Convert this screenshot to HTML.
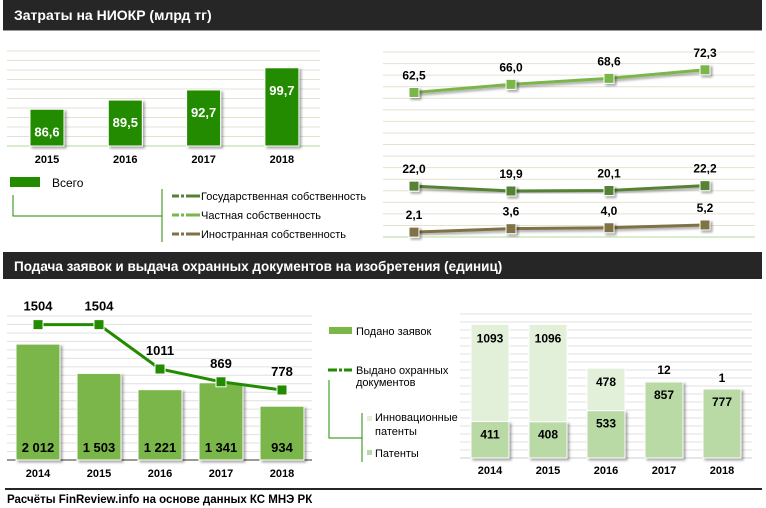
<!DOCTYPE html>
<html><head><meta charset="utf-8"><style>
body{margin:0;background:#fff;}
svg{display:block;font-family:"Liberation Sans",Arial,sans-serif;}
.b{font-weight:bold;}
</style></head><body>
<svg id="s" width="766" height="508" viewBox="0 0 766 508">
<defs><filter id="sh" x="-30%" y="-30%" width="170%" height="170%"><feDropShadow dx="2" dy="2" stdDeviation="1.2" flood-color="#000" flood-opacity="0.35"/></filter></defs>
<rect x="3" y="0" width="759" height="30" fill="#262626"/>
<rect x="3" y="30" width="759" height="1" fill="#999"/>
<text x="14" y="20" fill="#fff" font-size="14" class="b">Затраты на НИОКР (млрд тг)</text>
<g id="g1"></g><g id="g2"></g>
<rect x="3" y="252" width="759" height="27" fill="#262626"/>
<text x="14" y="271" fill="#fff" font-size="13.5" class="b">Подача заявок и выдача охранных документов  на изобретения (единиц)</text>
<g id="g3"></g><g id="g4"></g>
<rect x="10" y="177" width="30" height="10" fill="#228b00"/>
<text x="52" y="187" font-size="12">Всего</text>
<path d="M13 195V216H162M162 189V242" stroke="#228b00" fill="none" stroke-width="1"/>
<g font-size="11">
<path d="M172 196h28" stroke="#548235" stroke-width="3" stroke-dasharray="7 2 3 2 14 0"/><text x="201" y="200">Государственная собственность</text>
<path d="M172 215h28" stroke="#7ab648" stroke-width="3" stroke-dasharray="7 2 3 2 14 0"/><text x="201" y="219">Частная собственность</text>
<path d="M172 234h28" stroke="#7f7245" stroke-width="3" stroke-dasharray="7 2 3 2 14 0"/><text x="201" y="238">Иностранная собственность</text>
</g>
<rect x="329" y="327" width="23" height="7" fill="#7ab648"/>
<text x="356" y="335" font-size="11">Подано заявок</text>
<path d="M328 370h24" stroke="#228b00" stroke-width="3" stroke-dasharray="9 2 3 2 14 0"/>
<text x="356" y="374" font-size="11">Выдано охранных</text>
<text x="356" y="386" font-size="11">документов</text>
<path d="M329 380V438H362M362 413V462" stroke="#228b00" fill="none"/>
<rect x="367" y="416" width="5" height="5" fill="#e2efd9"/>
<text x="375" y="421" font-size="11">Инновационные</text>
<text x="375" y="435" font-size="11">патенты</text>
<rect x="367" y="450" width="5" height="5" fill="#b9d9a5"/>
<text x="375" y="457" font-size="11">Патенты</text>
<rect x="5" y="488" width="757" height="2" fill="#262626"/>
<text x="7" y="503" font-size="11.5" class="b">Расчёты FinReview.info  на основе данных КС МНЭ РК</text>
</svg>
<script>
const years1=["2015","2016","2017","2018"];
const total=[86.6,89.5,92.7,99.7];
const totalLabels=["86,6","89,5","92,7","99,7"];
const priv=[62.5,66.0,68.6,72.3];
const gov=[22.0,19.9,20.1,22.2];
const forn=[2.1,3.6,4.0,5.2];
const years2=["2014","2015","2016","2017","2018"];
const apps=[2012,1503,1221,1341,934];
const appLabels=["2 012","1 503","1 221","1 341","934"];
const issued=[1504,1504,1011,869,778];
const patents=[411,408,533,857,777];
const innov=[1093,1096,478,12,1];
const NS="http://www.w3.org/2000/svg";
function el(p,t,a,txt){const e=document.createElementNS(NS,t);for(const k in a)e.setAttribute(k,a[k]);if(txt!==undefined)e.textContent=txt;p.appendChild(e);return e;}
function fmt(v){return v.toFixed(1).replace('.',',');}
(function(){const g=document.getElementById('g1');const base=146,top=51,mn=75,mx=105;
const y=v=>base-(v-mn)/(mx-mn)*(base-top);
for(let v=mn+3;v<=mx;v+=3)el(g,'line',{x1:7,x2:320,y1:y(v),y2:y(v),stroke:'#e4e1d0'});
el(g,'line',{x1:7,x2:320,y1:base,y2:base,stroke:'#b5d99c'});
const xs=i=>30+i*78.3;
total.forEach((v,i)=>{const r=el(g,'rect',{x:xs(i),y:y(v),width:34,height:base-y(v),fill:'#228b00',stroke:'#fff','stroke-width':1,filter:'url(#sh)'});


el(g,'text',{x:xs(i)+17,y:y(v)+27,'text-anchor':'middle',fill:'#fff','font-size':13,'font-weight':'bold'},totalLabels[i]);
el(g,'text',{x:xs(i)+17,y:163,'text-anchor':'middle','font-size':11,'font-weight':'bold'},years1[i]);});})();
(function(){const g=document.getElementById('g2');const base=237,mx=80,h=2.3125;
const y=v=>base-v*h;const xs=[414,511,609,705];
for(let v=5;v<=mx;v+=5)el(g,'line',{x1:383,x2:755,y1:y(v),y2:y(v),stroke:'#e4e1d0'});
el(g,'line',{x1:383,x2:755,y1:base,y2:base,stroke:'#b5d99c'});
[[priv,'#7ab648','private'],[gov,'#548235','state'],[forn,'#7f7245','foreign']].forEach(([d,c,n])=>{
const l=el(g,'polyline',{points:d.map((v,i)=>xs[i]+','+y(v)).join(' '),fill:'none',stroke:c,'stroke-width':3,filter:'url(#sh)'});


d.forEach((v,i)=>{const m=el(g,'rect',{x:xs[i]-5,y:y(v)-5,width:10,height:10,fill:c,stroke:'#fff','stroke-width':1,filter:'url(#sh)'});


el(g,'text',{x:xs[i],y:y(v)-13,'text-anchor':'middle','font-size':12,'font-weight':'bold'},fmt(v));});});})();
(function(){const g=document.getElementById('g3');const base=460,top=316;
const y=v=>base-v/2500*(base-top);const y2=v=>base-v/1600*(base-top);
for(let k=1;k<=17;k++){const yy=base-k*(base-top)/17;el(g,'line',{x1:7,x2:312,y1:yy,y2:yy,stroke:'#e0e0e0'});}
el(g,'line',{x1:7,x2:312,y1:base,y2:base,stroke:'#333'});
const xs=i=>16+i*61;
apps.forEach((v,i)=>{const r=el(g,'rect',{x:xs(i),y:y(v),width:44,height:base-y(v),fill:'#7ab648',stroke:'#fff','stroke-width':1,filter:'url(#sh)'});


el(g,'text',{x:xs(i)+22,y:452,'text-anchor':'middle','font-size':13,'font-weight':'bold'},appLabels[i]);
el(g,'text',{x:xs(i)+22,y:477,'text-anchor':'middle','font-size':11,'font-weight':'bold'},years2[i]);});
const cx=i=>xs(i)+22;
const l=el(g,'polyline',{points:issued.map((v,i)=>cx(i)+','+y2(v)).join(' '),fill:'none',stroke:'#228b00','stroke-width':3});


issued.forEach((v,i)=>{const m=el(g,'rect',{x:cx(i)-5,y:y2(v)-5,width:10,height:10,fill:'#228b00',stroke:'#fff','stroke-width':1});


el(g,'text',{x:cx(i),y:y2(v)-14,'text-anchor':'middle','font-size':13,'font-weight':'bold'},String(v));});})();
(function(){const g=document.getElementById('g4');const base=458,top=314;
const y=v=>base-v/1620*(base-top);
for(let k=1;k<=18;k++){const yy=base-k*(base-top)/18;el(g,'line',{x1:460,x2:752,y1:yy,y2:yy,stroke:'#e0e0e0'});}
el(g,'line',{x1:460,x2:752,y1:base,y2:base,stroke:'#ccc'});
const xs=i=>471+i*58;
patents.forEach((p,i)=>{const q=innov[i];const t=p+q;
const r1=el(g,'rect',{x:xs(i),y:y(p),width:38,height:base-y(p),fill:'#b9d9a5',stroke:'#fff','stroke-width':1,filter:'url(#sh)'});


const r2=el(g,'rect',{x:xs(i),y:y(t),width:38,height:y(p)-y(t),fill:'#e2efd9',stroke:'#fff','stroke-width':1});


const big=(y(p)-y(t))>20;
el(g,'text',{x:xs(i)+19,y:(big?y(t)+18:y(t)-7),'text-anchor':'middle','font-size':12,'font-weight':'bold'},String(q));
el(g,'text',{x:xs(i)+19,y:y(p)+17,'text-anchor':'middle','font-size':12,'font-weight':'bold'},String(p));
el(g,'text',{x:xs(i)+19,y:474,'text-anchor':'middle','font-size':11,'font-weight':'bold'},years2[i]);});})();
</script>
</body></html>
